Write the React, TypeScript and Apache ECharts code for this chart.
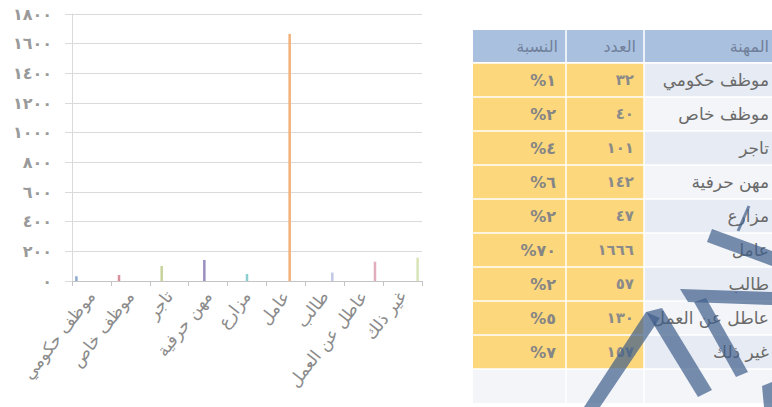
import React, { useEffect, useRef } from "react";
import * as echarts from "echarts";

// Occupations, head counts and shares (percent)
const categories = [
  "موظف حكومي",
  "موظف خاص",
  "تاجر",
  "مهن حرفية",
  "مزارع",
  "عامل",
  "طالب",
  "عاطل عن العمل",
  "غير ذلك",
];
const counts = [32, 40, 101, 142, 47, 1666, 57, 130, 157];
const shares = [1, 2, 4, 6, 2, 70, 2, 5, 7];
const headers = ["النسبة", "العدد", "المهنة"];
const barColors = [
  "#8eaad0",
  "#d98f9a",
  "#c6d49a",
  "#9a8fc0",
  "#8ccfcf",
  "#f2b07a",
  "#c2c9e4",
  "#e2aebb",
  "#d7e4b6",
];

const AR_DIGITS = "٠١٢٣٤٥٦٧٨٩";
const toArabic = (n: number | string) =>
  String(n).replace(/\d/g, (d) => AR_DIGITS[+d]);

const FONT = "DejaVu Sans";

function buildTable() {
  const x0 = 473;
  const colX = [473, 566, 644, 780];
  const headTop = 30;
  const headH = 32;
  const rowTop = 63;
  const rowH = 34;
  const textRight = 769;
  const els: any[] = [];

  // header
  els.push({
    type: "rect",
    shape: { x: x0, y: headTop, width: 780 - x0, height: headH },
    style: { fill: "#a9c1df" },
  });
  headers.forEach((h, c) => {
    els.push({
      type: "text",
      style: {
        x: c === 2 ? textRight : colX[c + 1] - 8,
        y: headTop + headH / 2,
        text: h,
        align: "right",
        verticalAlign: "middle",
        fill: "#71809a",
        font: `16px "${FONT}"`,
      },
    });
  });

  const rows = categories.length + 1;
  for (let r = 0; r < rows; r++) {
    const y = rowTop + r * rowH;
    const empty = r === categories.length;
    const labelFill = empty ? "#f3f5f9" : r % 2 === 0 ? "#e7ecf4" : "#f3f5f9";
    const numFill = empty ? "#f3f5f9" : "#fdd77b";
    els.push({
      type: "rect",
      shape: { x: colX[0], y, width: colX[2] - colX[0], height: rowH },
      style: { fill: numFill },
    });
    els.push({
      type: "rect",
      shape: { x: colX[2], y, width: colX[3] - colX[2], height: rowH },
      style: { fill: labelFill },
    });
    if (!empty) {
      els.push({
        type: "text",
        style: {
          x: 556,
          y: y + rowH / 2,
          text: "%" + toArabic(shares[r]),
          align: "right",
          verticalAlign: "middle",
          fill: "#858585",
          font: `bold 16px "${FONT}"`,
        },
      });
      els.push({
        type: "text",
        style: {
          x: 634,
          y: y + rowH / 2,
          text: toArabic(counts[r]),
          align: "right",
          verticalAlign: "middle",
          fill: "#8a8a8a",
          font: `bold 15px "${FONT}"`,
        },
      });
      els.push({
        type: "text",
        style: {
          x: textRight,
          y: y + rowH / 2,
          text: categories[r],
          align: "right",
          verticalAlign: "middle",
          fill: "#6a6a6a",
          font: `17px "${FONT}"`,
        },
      });
    }
    // white row divider
    els.push({
      type: "line",
      shape: { x1: x0, y1: y, x2: 780, y2: y },
      style: { stroke: "#ffffff", lineWidth: 1.5 },
    });
  }
  // column dividers
  [566, 644].forEach((cx) => {
    els.push({
      type: "line",
      shape: { x1: cx, y1: headTop, x2: cx, y2: rowTop + rows * rowH },
      style: { stroke: "#ffffff", lineWidth: 1.5 },
    });
  });

  // translucent logo strokes across the table
  const ink = "rgba(62, 94, 138, 0.7)";
  const polys = [
    // upper arm
    [[712, 229], [772, 251], [772, 266], [707, 242]],
    // cross band
    [[680, 289], [772, 292], [772, 305], [688, 302]],
    // left leg of the A
    [[584, 407], [646, 312], [660, 318], [600, 407]],
    // right leg of the A
    [[646, 312], [662, 308], [712, 390], [698, 397]],
    // inner stroke
    [[694, 302], [706, 298], [748, 372], [736, 377]],
    // blob at the right edge
    [[762, 386], [772, 382], [772, 407], [764, 407]],
  ];
  polys.forEach((pts) =>
    els.push({ type: "polygon", shape: { points: pts }, style: { fill: ink } })
  );
  els.push({
    type: "line",
    shape: { x1: 749, y1: 206, x2: 738, y2: 231 },
    style: { stroke: ink, lineWidth: 3 },
  });
  return els;
}

export default function App() {
  const ref = useRef<HTMLDivElement>(null);

  useEffect(() => {
    if (!ref.current) return;
    const chart = echarts.init(ref.current, undefined, { renderer: "svg" });
    chart.setOption({
      animation: false,
      backgroundColor: "#ffffff",
      grid: { left: 72, top: 14, right: 350, bottom: 126, containLabel: false },
      xAxis: {
        type: "category",
        data: categories,
        boundaryGap: true,
        axisLine: { lineStyle: { color: "#c4c4c4", width: 1 } },
        axisTick: { show: true, length: 5, lineStyle: { color: "#c4c4c4" } },
        axisLabel: {
          rotate: 52,
          interval: 0,
          margin: 12,
          color: "#8c8c8c",
          fontSize: 17,
          fontFamily: FONT,
        },
      },
      yAxis: {
        type: "value",
        min: 0,
        max: 1800,
        interval: 200,
        axisLine: { show: true, lineStyle: { color: "#dadada" } },
        axisTick: { show: true, length: 7, lineStyle: { color: "#dadada" } },
        splitLine: { lineStyle: { color: "#dadada" } },
        axisLabel: {
          margin: 20,
          color: "#9a9a9a",
          fontSize: 16,
          fontWeight: "bold",
          fontFamily: FONT,
          formatter: (v: number) => toArabic(v),
        },
      },
      series: categories.map((name, i) => ({
        type: "bar",
        name,
        data: counts.map((v, j) => (j === i ? v : null)),
        itemStyle: { color: barColors[i] },
        barGap: "50%",
        barCategoryGap: "16%",
      })),
      graphic: buildTable(),
    });
    return () => chart.dispose();
  }, []);

  return (
    <div
      ref={ref}
      style={{ position: "absolute", left: 0, top: 0, width: 772, height: 407 }}
    />
  );
}
